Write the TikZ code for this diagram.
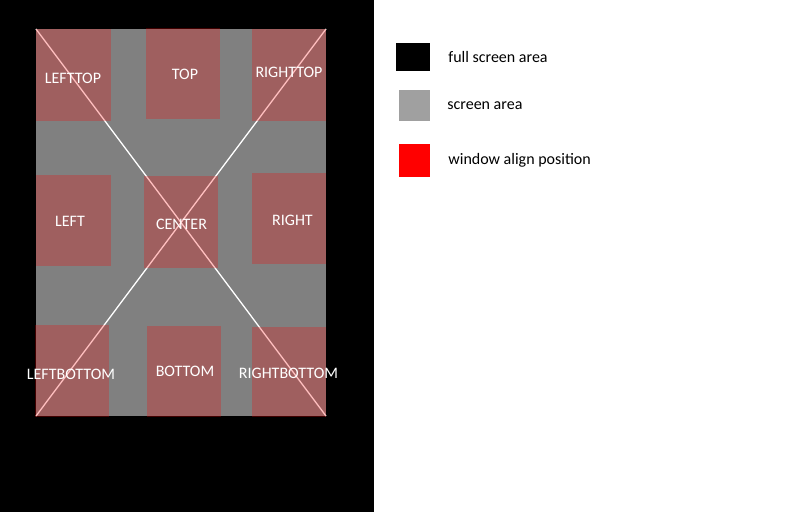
\documentclass[tikz,border=0pt]{standalone}
\usepackage{fontspec}
\setmainfont{Carlito}
\usepackage{tikz}
\usetikzlibrary{positioning}
\definecolor{screengray}{RGB}{128, 128, 128}
\definecolor{keygray}{RGB}{160, 160, 160}
\definecolor{alignred}{RGB}{255, 0, 0}

\begin{document}
\begin{tikzpicture}[x=1pt, y=-1pt,
  alignbox/.style={fill=alignred, fill opacity=0.25, inner sep=0pt,
    minimum width=74pt, minimum height=91pt},
  alignlabel/.style={text=white, inner sep=0pt, font=\fontsize{16}{16}\selectfont},
  keybox/.style={inner sep=0pt, minimum width=31pt, minimum height=31pt},
  keytext/.style={inner sep=0pt, anchor=west, font=\fontsize{16}{16}\selectfont}]
  \useasboundingbox (0,0) rectangle (800,512);

  % Full screen area
  \fill[black] (0,0) rectangle (374,512);

  % Screen area and its diagonals
  \coordinate (snw) at (36,29);
  \coordinate (sse) at (326,416);
  \coordinate (sne) at (326,29);
  \coordinate (ssw) at (36,416);
  \fill[screengray] (snw) rectangle (sse);
  \draw[white, line width=1.3pt] (snw) -- (sse);
  \draw[white, line width=1.3pt] (sne) -- (ssw);

  % Window align positions
  \node[alignbox, minimum width=75pt, minimum height=92pt] (lefttop) at (73.5,75) {};
  \node[alignbox] (top) at (183,73.5) {};
  \node[alignbox, minimum height=92pt] (righttop) at (289,75) {};
  \node[alignbox, minimum width=75pt] (left) at (73.5,220.5) {};
  \node[alignbox, minimum height=92pt] (center) at (181,222) {};
  \node[alignbox] (right) at (289,218.5) {};
  \node[alignbox, minimum height=92pt] (leftbottom) at (72,371) {};
  \node[alignbox] (bottom) at (184,371.5) {};
  \node[alignbox, minimum height=90pt] (rightbottom) at (289,372) {};

  % Their names
  \node[alignlabel] (lefttoptext) at (73,78) {LEFTTOP};
  \node[alignlabel] (toptext) at (185,74) {TOP};
  \node[alignlabel] (righttoptext) at (289,72) {RIGHTTOP};
  \node[alignlabel] (lefttext) at (70,221) {LEFT};
  \node[alignlabel] (centertext) at (181.5,224) {CENTER};
  \node[alignlabel] (righttext) at (292.5,220) {RIGHT};
  \node[alignlabel] (leftbottomtext) at (71,374) {LEFTBOTTOM};
  \node[alignlabel] (bottomtext) at (185,371) {BOTTOM};
  \node[alignlabel] (rightbottomtext) at (288.5,373) {RIGHTBOTTOM};

  % Legend
  \node[keybox, fill=black, minimum width=34pt, minimum height=28pt] (fullkey) at (413,57) {};
  \node[keybox, fill=keygray] (screenkey) at (414.5,105.5) {};
  \node[keybox, fill=alignred, minimum height=33pt] (alignkey) at (414.5,160.5) {};
  \node[keytext, right=18pt of fullkey] (fulltext) {full screen area};
  \node[keytext, right=17pt of screenkey] (screentext) {screen area};
  \node[keytext, right=18pt of alignkey] (aligntext) {window align position};
\end{tikzpicture}
\end{document}
